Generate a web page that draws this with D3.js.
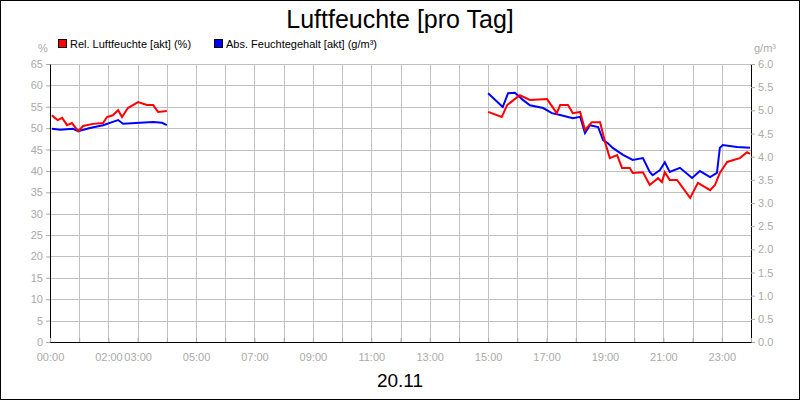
<!DOCTYPE html>
<html><head><meta charset="utf-8">
<script src="https://cdn.jsdelivr.net/npm/d3@7"></script>
<style>body{margin:0}text{font-family:"Liberation Sans",Arial,sans-serif}</style>
</head><body><svg width="800" height="400"></svg>
<script>
// minutes since 00:00, null breaks the line
var relTime = [4,10,16,25,35,45,58,68,88,109,117,129,140,148,160,181,199,212,222,240,null,
  900,928,939,965,986,1021,1041,1048,1064,1074,1089,1099,1113,1130,1140,1150,1165,1175,1191,1197,1218,1232,1249,1257,1263,1273,1288,1315,1331,1356,1366,1376,1391,1417,1432,1438];
var relValue = [53,52.4,51.9,52.4,50.7,51.2,49.3,50.5,51,51.2,52.6,53,54.2,52.6,54.7,56.1,55.4,55.4,53.8,54,null,
  53.8,52.6,55.4,57.7,56.6,56.8,53.5,55.4,55.4,53.5,53.8,49.6,51.4,51.4,46.8,43,43.7,40.7,40.7,39.5,39.7,36.7,38.3,37.4,39.7,37.9,37.9,33.7,37.2,35.5,36.7,39.5,42.1,43,44.4,44];
var absTime = [4,21,47,58,82,109,129,140,150,185,212,230,240,null,
  900,930,941,955,972,986,1013,1031,1048,1074,1089,1099,1109,1126,1136,1146,1156,1177,1197,1218,1232,1238,1253,1263,1273,1294,1319,1335,1356,1370,1376,1382,1411,1438];
var absValue = [4.6,4.58,4.6,4.55,4.62,4.68,4.75,4.79,4.71,4.73,4.75,4.73,4.68,null,
  5.37,5.07,5.37,5.38,5.22,5.11,5.05,4.94,4.9,4.83,4.86,4.51,4.68,4.64,4.36,4.29,4.19,4.04,3.93,3.97,3.67,3.6,3.71,3.88,3.67,3.76,3.54,3.69,3.56,3.65,4.19,4.25,4.21,4.19];
var xTickHours = [0,2,3,5,7,9,11,13,15,17,19,21,23];
var legend = [["Rel. Luftfeuchte [akt] (%)","#ff0000"],["Abs. Feuchtegehalt [akt] (g/m³)","#0000ff"]];

var svg = d3.select("svg"),
    L = 50, R = 751, T = 64, B = 342, grey = "#aaa";
svg.append("rect").attr("x",0.5).attr("y",0.5).attr("width",799).attr("height",399).attr("fill","#fff").attr("stroke","#000");

var x = d3.scaleLinear().domain([0,1440]).range([L,R]),
    yL = d3.scaleLinear().domain([0,65]).range([B,T]),
    yR = d3.scaleLinear().domain([0,6]).range([B,T]);

// grid
var g = svg.append("g").attr("stroke","#c0c0c0").attr("stroke-width",1);
d3.range(0,1441,60).forEach(function(m){ g.append("line").attr("x1",Math.round(x(m))+0.5).attr("x2",Math.round(x(m))+0.5).attr("y1",T).attr("y2",B); });
d3.range(0,66,5).forEach(function(v){ g.append("line").attr("x1",L).attr("x2",R).attr("y1",Math.round(yL(v))+0.5).attr("y2",Math.round(yL(v))+0.5); });

function styleAxis(a){
  a.selectAll("text").attr("fill",grey).style("font-size","11px");
  a.selectAll(".tick line").attr("stroke",grey);
  a.select(".domain").attr("stroke","#000");
}
svg.append("g").attr("transform","translate("+L+",0)").call(d3.axisLeft(yL).tickValues(d3.range(0,66,5)).tickSize(4).tickSizeOuter(0)).call(styleAxis);
svg.append("g").attr("transform","translate("+R+",0)").call(d3.axisRight(yR).tickValues(d3.range(0,6.01,0.5)).tickFormat(d3.format(".1f")).tickSize(4).tickSizeOuter(0)).call(styleAxis);
var xa = svg.append("g").attr("transform","translate(0,"+B+")").call(d3.axisBottom(x).tickValues(d3.range(0,1441,60)).tickFormat(function(m){
  var h = m/60; return xTickHours.indexOf(h) >= 0 ? d3.format("02")(h)+":00" : ""; }).tickSize(4).tickSizeOuter(0)).call(styleAxis);
xa.selectAll(".tick line").attr("y2",-4);
xa.selectAll("text").attr("dy","1.1em");

function draw(times, vals, y, color){
  var pts = times.map(function(t,i){ return [t, vals[i]]; });
  svg.append("path").datum(pts).attr("fill","none").attr("stroke",color).attr("stroke-width",2)
    .attr("d", d3.line().defined(function(d){ return d[0] !== null; }).x(function(d){ return x(d[0]); }).y(function(d){ return y(d[1]); }));
}
draw(absTime, absValue, yR, "#0000ff");
draw(relTime, relValue, yL, "#ff0000");

svg.append("text").attr("x",400).attr("y",28).attr("text-anchor","middle").style("font-size","25px").text("Luftfeuchte [pro Tag]");
svg.append("text").attr("x",400).attr("y",387).attr("text-anchor","middle").style("font-size","19px").text("20.11");
svg.append("text").attr("x",43).attr("y",52).attr("text-anchor","middle").attr("fill",grey).style("font-size","11px").text("%");
svg.append("text").attr("x",765).attr("y",52).attr("text-anchor","middle").attr("fill",grey).style("font-size","11px").text("g/m³");
[58,214].forEach(function(lx,i){
  svg.append("rect").attr("x",lx+0.5).attr("y",39.5).attr("width",8).attr("height",8).attr("fill",legend[i][1]).attr("stroke","#000");
  svg.append("text").attr("x",lx+12).attr("y",48).style("font-size","11px").text(legend[i][0]);
});
</script></body></html>
